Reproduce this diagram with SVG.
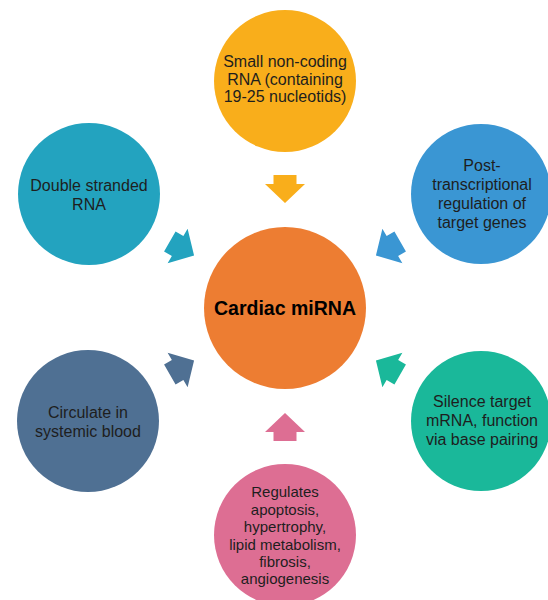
<svg xmlns="http://www.w3.org/2000/svg" width="548" height="600" viewBox="0 0 548 600">
<style>
text{font-family:"Liberation Sans",Arial,sans-serif;font-size:16px;fill:#1e1e1e;text-anchor:middle}
.b{font-weight:bold;font-size:19.5px;fill:#000}
.s{font-size:15px}
</style>
<defs>
<path id="arr" d="M-11.5,-133 H11.5 V-124 H20 L0,-105 L-20,-124 H-11.5 Z"/>
</defs>
<rect width="548" height="600" fill="#fff"/>
<g id="connectors">
<use href="#arr" fill="#F9AE1B" transform="translate(285,308) rotate(0)"/>
<use href="#arr" fill="#3A96D3" transform="translate(285,308) rotate(60)"/>
<use href="#arr" fill="#1AB89A" transform="translate(285,308) rotate(120)"/>
<use href="#arr" fill="#DD6E93" transform="translate(285,308) rotate(180)"/>
<use href="#arr" fill="#4F7093" transform="translate(285,308) rotate(240)"/>
<use href="#arr" fill="#23A3BF" transform="translate(285,308) rotate(300)"/>
</g>
<g id="center">
<circle cx="285" cy="308" r="81" fill="#ED7D32"/>
<text class="b" x="285" y="315">Cardiac miRNA</text>
</g>
<g id="top">
<circle cx="285" cy="81" r="71" fill="#F9AE1B"/>
<text x="285" y="67">Small non-coding</text>
<text x="285" y="85">RNA (containing</text>
<text x="285" y="102">19-25 nucleotids)</text>
</g>
<g id="topright">
<circle cx="481" cy="194" r="70" fill="#3A96D3"/>
<text x="482" y="171">Post-</text>
<text x="482" y="190">transcriptional</text>
<text x="482" y="209">regulation of</text>
<text x="482" y="228">target genes</text>
</g>
<g id="bottomright">
<circle cx="481" cy="421" r="70" fill="#1AB89A"/>
<text x="482" y="407">Silence target</text>
<text x="482" y="426">mRNA, function</text>
<text x="482" y="445">via base pairing</text>
</g>
<g id="bottom">
<circle cx="285" cy="535" r="71" fill="#DD6E93"/>
<text class="s" x="285" y="497">Regulates</text>
<text class="s" x="285" y="515">apoptosis,</text>
<text class="s" x="285" y="532">hypertrophy,</text>
<text class="s" x="285" y="550">lipid metabolism,</text>
<text class="s" x="285" y="567">fibrosis,</text>
<text class="s" x="285" y="584">angiogenesis</text>
</g>
<g id="bottomleft">
<circle cx="88" cy="421" r="71" fill="#4F7093"/>
<text x="88" y="418">Circulate in</text>
<text x="88" y="437">systemic blood</text>
</g>
<g id="topleft">
<circle cx="89" cy="194" r="71" fill="#23A3BF"/>
<text x="89" y="191">Double stranded</text>
<text x="89" y="210">RNA</text>
</g>
</svg>
